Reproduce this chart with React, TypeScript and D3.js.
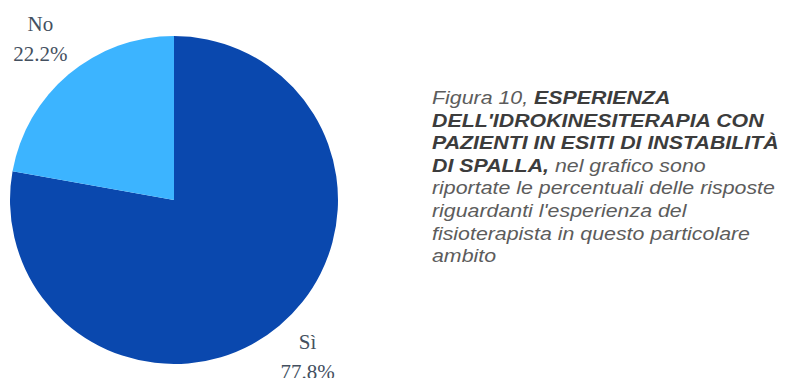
import React from "react";
import * as d3 from "d3";

const categories = ["Sì", "No"];
const values = [77.8, 22.2];
const colors = ["#0A48AE", "#3CB4FF"];

type Seg = { text: string; bold: boolean };
const captionLines: Seg[][] = [
  [{ text: "Figura 10, ", bold: false }, { text: "ESPERIENZA", bold: true }],
  [{ text: "DELL'IDROKINESITERAPIA CON", bold: true }],
  [{ text: "PAZIENTI IN ESITI DI INSTABILITÀ", bold: true }],
  [{ text: "DI SPALLA,", bold: true }, { text: " nel grafico sono", bold: false }],
  [{ text: "riportate le percentuali delle risposte", bold: false }],
  [{ text: "riguardanti l'esperienza del", bold: false }],
  [{ text: "fisioterapista in questo particolare", bold: false }],
  [{ text: "ambito", bold: false }],
];

export default function App() {
  const W = 789, H = 378;
  const cx = 174, cy = 200, R = 164, LR = 208;
  const pie = d3.pie<number>().sort(null).value((d) => d);
  const arcs = pie(values);
  const arc = d3.arc<d3.PieArcDatum<number>>().innerRadius(0).outerRadius(R);
  const labelArc = d3.arc<d3.PieArcDatum<number>>().innerRadius(LR).outerRadius(LR);
  const fmt = d3.format(".1f");

  const tx = 432, ty0 = 104, lh = 22.6, fs = 17.5, sx = 1.22;

  return (
    <svg width={W} height={H} style={{ position: "absolute", left: 0, top: 0 }}>
      <rect width={W} height={H} fill="#fff" />
      <g transform={`translate(${cx},${cy})`}>
        {arcs.map((a, i) => (
          <path key={i} d={arc(a) as string} fill={colors[i]} />
        ))}
        {arcs.map((a, i) => {
          const [x, y] = labelArc.centroid(a);
          return (
            <text key={"l" + i} x={x} y={y} textAnchor="middle" fontFamily="'Liberation Serif', 'Times New Roman', serif" fontSize={21} fill="#44505f">
              <tspan x={x} dy={-10}>{categories[i]}</tspan>
              <tspan x={x} dy={30}>{fmt(values[i])}%</tspan>
            </text>
          );
        })}
      </g>
      <g transform={`translate(${tx},0) scale(${sx},1)`}>
        {captionLines.map((line, i) => (
          <text key={i} x={0} y={ty0 + i * lh} fontFamily="'Liberation Sans', Arial, sans-serif" fontStyle="italic" fontSize={fs}>
            {line.map((s, j) => (
              <tspan key={j} fontWeight={s.bold ? "bold" : "normal"} fill={s.bold ? "#3c3c3c" : "#5c5c5c"}>{s.text}</tspan>
            ))}
          </text>
        ))}
      </g>
    </svg>
  );
}
